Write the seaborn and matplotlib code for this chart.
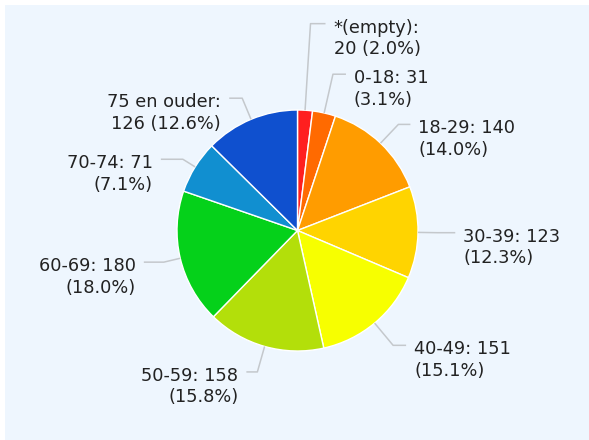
import matplotlib
matplotlib.use("Agg")
import numpy as np
import matplotlib.pyplot as plt
from matplotlib.patches import Rectangle
import seaborn as sns

# age groups and counts
categories = ["*(empty)", "0-18", "18-29", "30-39", "40-49", "50-59", "60-69", "70-74", "75 en ouder"]
counts = [20, 31, 140, 123, 151, 158, 180, 71, 126]
slice_colors = ["#ff1f1f", "#ff6a00", "#ff9c00", "#ffd400", "#f7ff00",
                "#b3df0a", "#05d11a", "#118fd0", "#0f50cf"]

# label layout: elbow distance (in radii) and length of the flat tail (px)
elbow_r = [1.72, 1.33, 1.215, 1.16, 1.24, 1.22, 1.14, 1.12, 1.19]
tail_px = [15, 13, 12, 18, 13, 11, 20, 22, 13]

sns.set_theme(style="white")
plt.rcParams["font.family"] = ["DejaVu Sans"]

W, H = 589, 440
CX, CY, R = 297.5, 230.5, 120.5   # pie centre and radius in pixels

fig = plt.figure(figsize=(W / 100, H / 100), dpi=100)
fig.patch.set_facecolor("white")
# light blue panel with a thin white margin top/left
fig.add_artist(Rectangle((5 / W, 0.5 / H), 583.5 / W, 434.5 / H, transform=fig.transFigure,
                         facecolor="#eef6fe", edgecolor="none", zorder=-1))

ax = fig.add_axes([0, 0, 1, 1])
wedges, _ = ax.pie(counts, colors=sns.color_palette(slice_colors), startangle=90,
                   counterclock=False, radius=1,
                   wedgeprops=dict(edgecolor="white", linewidth=1.0))
ax.set_xlim(-CX / R, (W - CX) / R)
ax.set_ylim(-(H - CY) / R, CY / R)
ax.set_facecolor("none")
ax.axis("off")

total = sum(counts)
for i, w in enumerate(wedges):
    name, v = categories[i], counts[i]
    pct = f"({v / total * 100:.1f}%)"
    if len(name) > 6:
        label = f"{name}:\n{v} {pct}"
    else:
        label = f"{name}: {v}\n{pct}"

    ang = np.deg2rad((w.theta1 + w.theta2) / 2)
    dx, dy = np.cos(ang), np.sin(ang)
    side = 1 if dx > 0 else -1
    ex, ey = dx * elbow_r[i], dy * elbow_r[i]
    tx = ex + side * tail_px[i] / R
    ax.plot([dx, ex, tx], [dy, ey, ey], color="#c4c8cc", lw=1.1,
            solid_capstyle="butt", clip_on=False)
    ax.text(tx + side * 8 / R, ey + 5 / R, label, fontsize=12.8, color="#222222",
            ha="left" if side > 0 else "right", va="top",
            multialignment="left" if side > 0 else "right", linespacing=1.25)

plt.savefig("out.png", dpi=100)
